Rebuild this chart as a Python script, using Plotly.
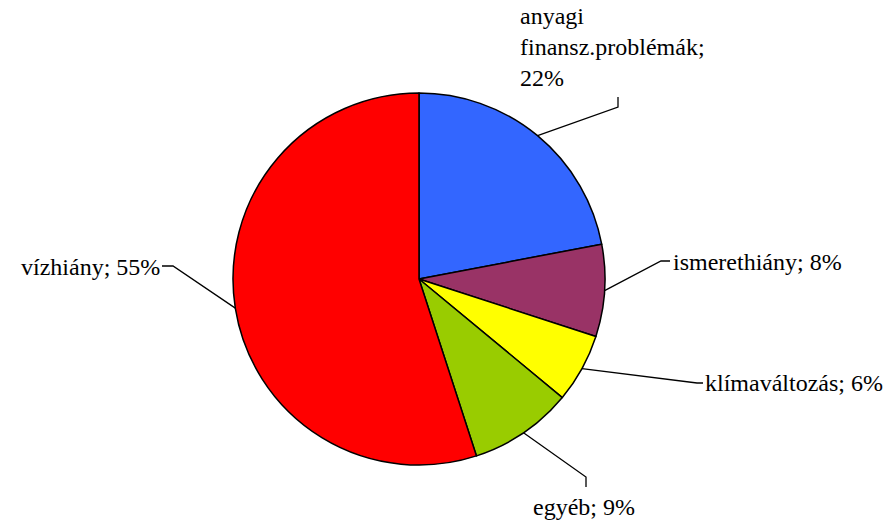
import math
import plotly.graph_objects as go

# ---- data ----
categories = ["anyagi finansz.problémák", "ismerethiány", "klímaváltozás", "egyéb", "vízhiány"]
values = [22, 8, 6, 9, 55]
label_texts = ["anyagi<br>finansz.problémák;<br>22%", "ismerethiány; 8%",
               "klímaváltozás; 6%", "egyéb; 9%", "vízhiány; 55%"]
colors = ["#3366FF", "#993366", "#FFFF00", "#99CC00", "#FF0000"]

# ---- layout geometry (pixels) ----
W, H = 896, 522
cx, cy, r = 419, 279, 186
elbows = [(618, 107), (661, 261), (697, 383), (586, 477), (173, 266)]
ends = [(618, 97), (670, 261), (703, 383), (586, 487), (162, 266)]
text_pos = [(518, 47, "left"), (671, 262, "left"), (703, 383, "left"),
            (584, 507, "center"), (162, 267, "right")]

FONT = "Times New Roman, Liberation Serif, DejaVu Serif, serif"

fig = go.Figure()
fig.add_trace(go.Pie(
    labels=categories, values=values, sort=False, direction="clockwise",
    rotation=0, marker=dict(colors=colors, line=dict(color="black", width=1.5)),
    textinfo="none", hoverinfo="label+percent", showlegend=False,
    domain=dict(x=[(cx - r) / W, (cx + r) / W], y=[1 - (cy + r) / H, 1 - (cy - r) / H]),
))
# invisible pixel-space axes for leader lines and labels
fig.add_trace(go.Scatter(x=[0, W], y=[0, H], mode="markers", marker=dict(opacity=0),
                         hoverinfo="skip", showlegend=False))

total = sum(values)
cum = 0
shapes = []
annotations = []
for i, v in enumerate(values):
    mid = (cum + v / 2) / total * 2 * math.pi
    cum += v
    sx = cx + r * math.sin(mid)
    sy = cy - r * math.cos(mid)
    ex, ey = elbows[i]
    tx, ty = ends[i]
    shapes.append(dict(type="path", xref="x", yref="y",
                       path=f"M {sx:.1f},{sy:.1f} L {ex},{ey} L {tx},{ty}",
                       line=dict(color="black", width=1.3)))
    px, py, anchor = text_pos[i]
    annotations.append(dict(x=px, y=py, xref="x", yref="y", text=label_texts[i],
                            showarrow=False, xanchor=anchor, yanchor="middle",
                            align="left", font=dict(family=FONT, size=24, color="black")))

fig.update_layout(
    width=W, height=H, margin=dict(l=0, r=0, t=0, b=0),
    paper_bgcolor="white", plot_bgcolor="rgba(0,0,0,0)",
    font=dict(family=FONT),
    xaxis=dict(range=[0, W], visible=False, fixedrange=True),
    yaxis=dict(range=[H, 0], visible=False, fixedrange=True),
    shapes=shapes, annotations=annotations,
)
fig.write_html("out.html", config={"displayModeBar": False},
               post_script="document.body.style.margin='0';document.body.style.overflow='hidden';")
